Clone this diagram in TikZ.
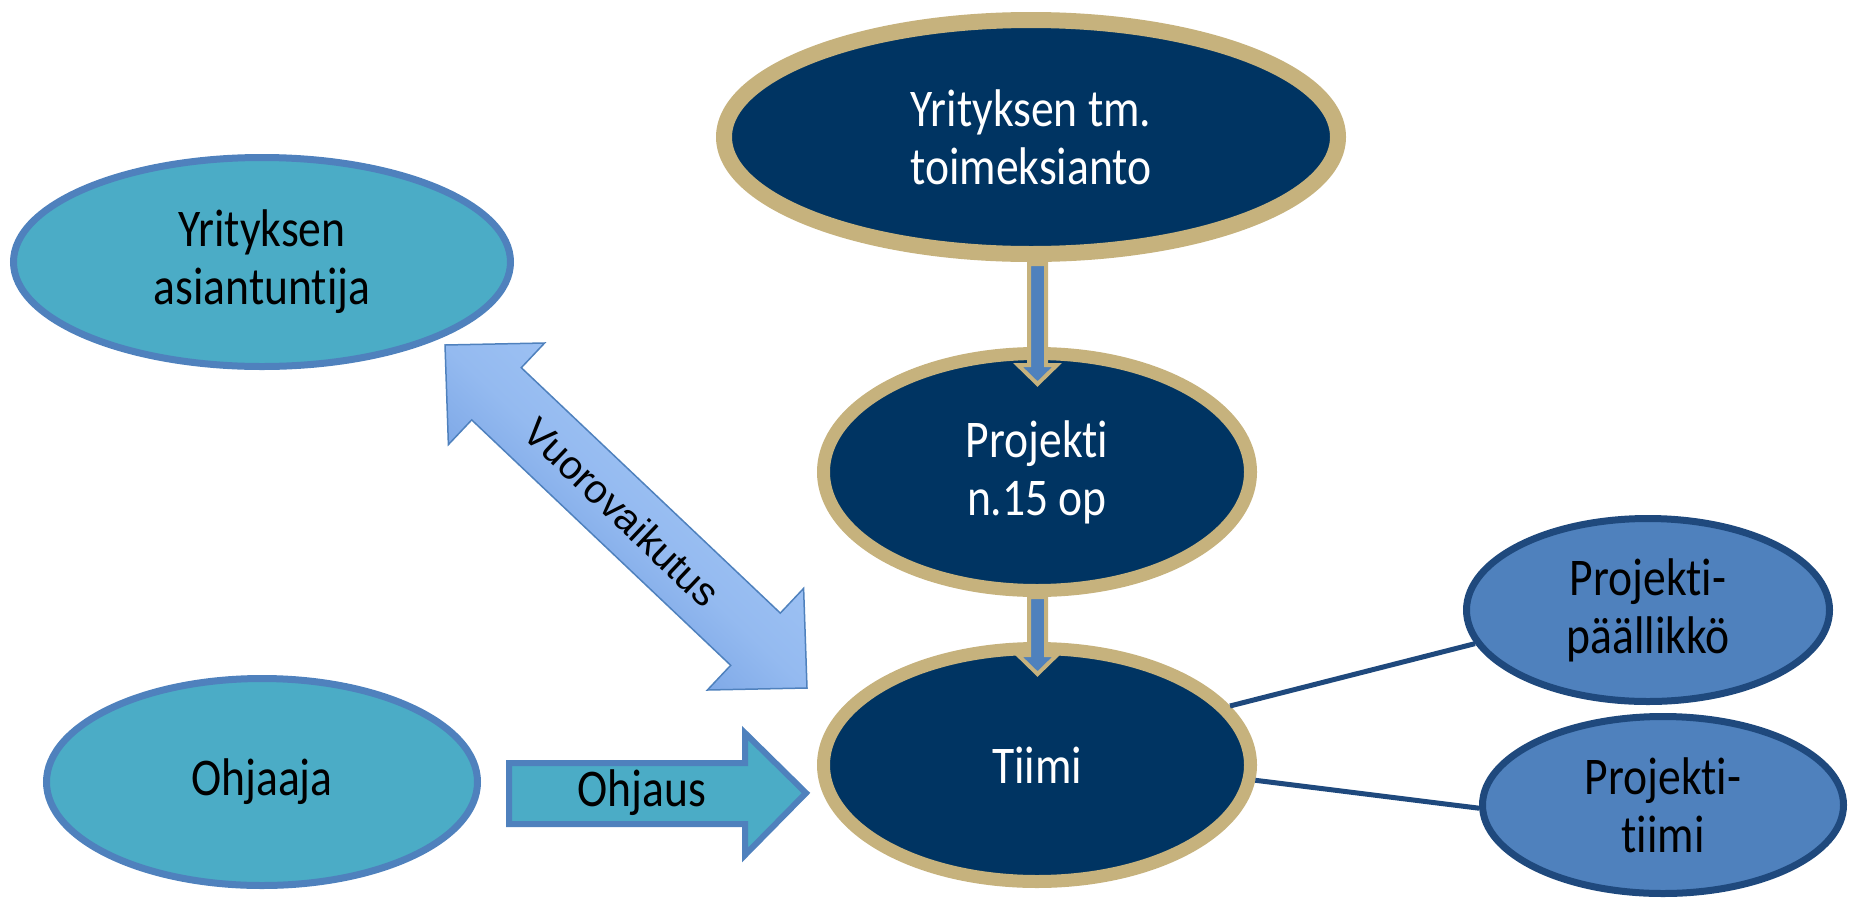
\documentclass[tikz,border=0pt]{standalone}
\usepackage{fontspec}
\setmainfont[FakeStretch=0.86, Ligatures=NoCommon, RawFeature=-liga]{Carlito}
\newfontfamily\arrowfont{Liberation Sans}
\usetikzlibrary{shapes.geometric}
\definecolor{ringtan}{RGB}{198,178,125}
\definecolor{navy}{RGB}{0,52,98}
\definecolor{tealfill}{RGB}{75,172,198}
\definecolor{midblue}{RGB}{79,129,189}
\definecolor{darkblue}{RGB}{31,73,125}
\definecolor{vlight}{RGB}{168,202,248}
\definecolor{vmid}{RGB}{148,186,240}
\definecolor{vdark}{RGB}{96,144,218}
\begin{document}
\begin{tikzpicture}[x=1pt,y=-1pt,
  bigtext/.style={font=\fontsize{53}{58}\selectfont, align=center, inner sep=0pt},
  darkell/.style={bigtext, ellipse, draw=ringtan, fill=navy, line width=13pt, text=white},
  tealell/.style={bigtext, ellipse, draw=midblue, fill=tealfill, line width=7pt, text=black},
  roleell/.style={bigtext, ellipse, draw=darkblue, fill=midblue, line width=7pt, text=black},
  conn/.style={draw=darkblue, line width=5pt},
  downarrow/.style={draw=ringtan, fill=midblue, line width=4pt, line join=miter},
  ohjarrow/.style={draw=midblue, fill=tealfill, line width=6pt, line join=miter},
  vuoarrow/.style={draw=midblue, line width=1.5pt, line join=miter}
]
\useasboundingbox (0,0) rectangle (1849,900);

% ellipses
\node[darkell, line width=16pt, minimum width=614pt, minimum height=234pt] (top) at (1031,137) {Yrityksen tm.\\toimeksianto};
\node[darkell, minimum width=427pt, minimum height=237pt] (proj) at (1037,472) {Projekti\\n.15 op};
\node[darkell, minimum width=427pt, minimum height=233pt] (tiimi) at (1037,765) {Tiimi};
\node[tealell, minimum width=497pt, minimum height=209pt] (asi) at (262,262) {Yrityksen\\asiantuntija};
\node[tealell, minimum width=431pt, minimum height=207pt] (ohj) at (262,782) {Ohjaaja};
\node[roleell, minimum width=363pt, minimum height=183pt] (paal) at (1648,610) {Projekti-\\päällikkö};
\node[roleell, minimum width=361pt, minimum height=177pt] (ptiimi) at (1663,805) {Projekti-\\tiimi};

% connectors to the roles
\draw[conn] (tiimi.17) -- (paal.191);
\draw[conn] (tiimi.-4) -- (ptiimi.181);

% down arrows
\draw[downarrow] (1029,264) -- (1046,264) -- (1046,365) -- (1057,365) -- (1037.5,384) -- (1018,365) -- (1029,365) -- cycle;
\draw[downarrow] (1029,597) -- (1046,597) -- (1046,655) -- (1057,655) -- (1037.5,674) -- (1018,655) -- (1029,655) -- cycle;

% Ohjaus arrow
\draw[ohjarrow] (509,763) -- (745,763) -- (745,733) -- (806,793) -- (745,855) -- (745,824) -- (509,824) -- cycle;
\node[bigtext, text=black] (ohjlabel) at (642,793) {Ohjaus};

% Vuorovaikutus double arrow
\draw[vuoarrow, top color=vlight, bottom color=vdark, middle color=vmid, shading angle=-43.5]
  (445,345) -- (544.6,343.0) -- (521.3,367.7) -- (780.3,613.1) -- (803.6,588.4) -- (807,688)
  -- (707.4,690) -- (730.7,665.3) -- (471.7,419.9) -- (448.4,444.6) -- cycle;
\node[font=\arrowfont\fontsize{40}{48}\selectfont, rotate=-43.5, inner sep=0pt] (vuolabel) at (622,512) {Vuorovaikutus};
\end{tikzpicture}
\end{document}
